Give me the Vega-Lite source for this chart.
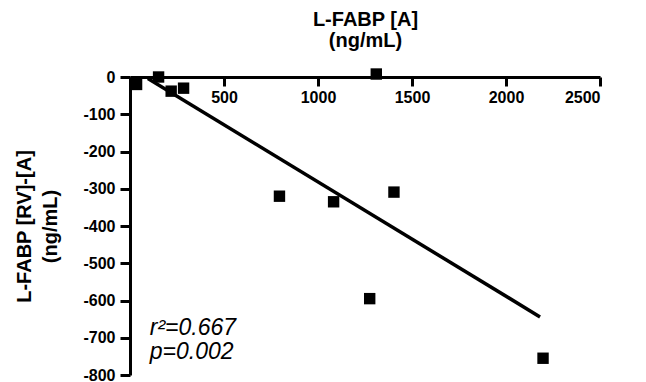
{
  "$schema": "https://vega.github.io/schema/vega-lite/v6.json",
  "width": 470,
  "height": 298,
  "autosize": {"type": "none"},
  "padding": {"left": 130, "top": 77, "right": 46, "bottom": 7},
  "background": "white",
  "config": {
    "view": {"stroke": null},
    "font": "Liberation Sans",
    "axis": {
      "domain": true,
      "ticks": true,
      "domainColor": "#000000",
      "domainOpacity": 1,
      "domainWidth": 3,
      "tickColor": "#000000",
      "tickOpacity": 1,
      "tickWidth": 3,
      "grid": false,
      "zindex": 1,
      "labelFont": "Liberation Sans",
      "labelFontWeight": "bold",
      "labelFontSize": 16,
      "labelColor": "black",
      "titleFont": "Liberation Sans",
      "titleFontWeight": "bold",
      "titleFontSize": 20,
      "titleColor": "black",
      "titleLineHeight": 21
    }
  },
  "datasets": {
    "points": [
      {"a": 35, "d": -20},
      {"a": 152, "d": 0},
      {"a": 219, "d": -38},
      {"a": 285, "d": -30},
      {"a": 795, "d": -320},
      {"a": 1083, "d": -335},
      {"a": 1275, "d": -595},
      {"a": 1310, "d": 8},
      {"a": 1404, "d": -309},
      {"a": 2197, "d": -755}
    ],
    "fit": [
      {"a": 95, "d": -4},
      {"a": 2181, "d": -644}
    ],
    "stats": [
      {"a": 105, "d": -692, "label": "r²=0.667"},
      {"a": 105, "d": -756, "label": "p=0.002"}
    ]
  },
  "encoding": {
    "x": {
      "field": "a", "type": "quantitative",
      "scale": {"domain": [0, 2500], "nice": false},
      "axis": {
        "orient": "bottom",
        "offset": -298,
        "title": ["L-FABP [A]", "(ng/mL)"],
        "values": [0, 500, 1000, 1500, 2000, 2500],
        "tickSize": 9,
        "labelPadding": 3,
        "labelOverlap": false,
        "labelExpr": "datum.value == 0 ? '' : datum.label",
        "format": "d",
        "titleY": -48,
        "titleBaseline": "bottom"
      }
    },
    "y": {
      "field": "d", "type": "quantitative",
      "scale": {"domain": [-800, 0], "nice": false},
      "axis": {
        "orient": "left",
        "title": ["L-FABP [RV]-[A]", "(ng/mL)"],
        "values": [0, -100, -200, -300, -400, -500, -600, -700, -800],
        "tickSize": 10,
        "labelPadding": 5,
        "labelOverlap": false,
        "labelExpr": "'' + datum.value",
        "titleX": -116,
        "titleBaseline": "top",
        "titleAngle": -90,
        "titleLineHeight": 26
      }
    }
  },
  "layer": [
    {
      "data": {"name": "fit"},
      "mark": {"type": "line", "color": "black", "strokeWidth": 3.5}
    },
    {
      "data": {"name": "points"},
      "mark": {"type": "point", "shape": "square", "filled": true, "color": "black", "opacity": 1, "size": 130}
    },
    {
      "data": {"name": "stats"},
      "mark": {"type": "text", "align": "left", "baseline": "alphabetic", "fontStyle": "italic", "fontSize": 23, "font": "Liberation Sans", "color": "black"},
      "encoding": {
        "text": {"field": "label"}
      }
    }
  ]
}
